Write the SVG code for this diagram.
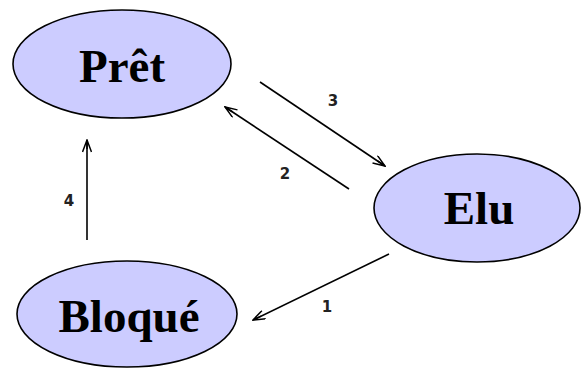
<svg xmlns="http://www.w3.org/2000/svg" width="584" height="369" viewBox="0 0 584 369">
<style>
.node{fill:#ccccff;stroke:#000;stroke-width:1.6}
.ntext{font-family:"Liberation Serif","Times New Roman",serif;font-weight:bold;font-size:47px;fill:#000;text-anchor:middle}
.edge{stroke:#000;stroke-width:1.6;fill:none;marker-end:url(#arr)}
.lbl{font-family:"DejaVu Sans",sans-serif;font-weight:bold;font-size:15px;fill:#222;text-anchor:middle}
</style>
<defs>
<marker id="arr" viewBox="0 0 14 10" refX="13" refY="5" markerWidth="14" markerHeight="10" markerUnits="userSpaceOnUse" orient="auto">
<path d="M1,0.5 L13,5 L1,9.5 M4,5 L13,5" fill="none" stroke="#000" stroke-width="1.5"/>
</marker>
</defs>
<rect width="584" height="369" fill="#fff"/>
<g id="connectors">
<line class="edge" x1="260" y1="82" x2="385" y2="166"/>
<line class="edge" x1="349" y1="189" x2="225" y2="107"/>
<line class="edge" x1="87" y1="240" x2="87" y2="140"/>
<line class="edge" x1="389" y1="254" x2="253" y2="320"/>
<text class="lbl" x="333" y="106">3</text>
<text class="lbl" x="285" y="179">2</text>
<text class="lbl" x="69" y="206">4</text>
<text class="lbl" x="327" y="312">1</text>
</g>
<g id="pret">
<ellipse class="node" cx="122" cy="64" rx="109" ry="54"/>
<text class="ntext" x="122" y="82">Prêt</text>
</g>
<g id="elu">
<ellipse class="node" cx="477" cy="208" rx="103" ry="54"/>
<text class="ntext" x="479" y="224">Elu</text>
</g>
<g id="bloque">
<ellipse class="node" cx="127" cy="314" rx="110" ry="53"/>
<text class="ntext" x="129" y="332">Bloqué</text>
</g>
</svg>
